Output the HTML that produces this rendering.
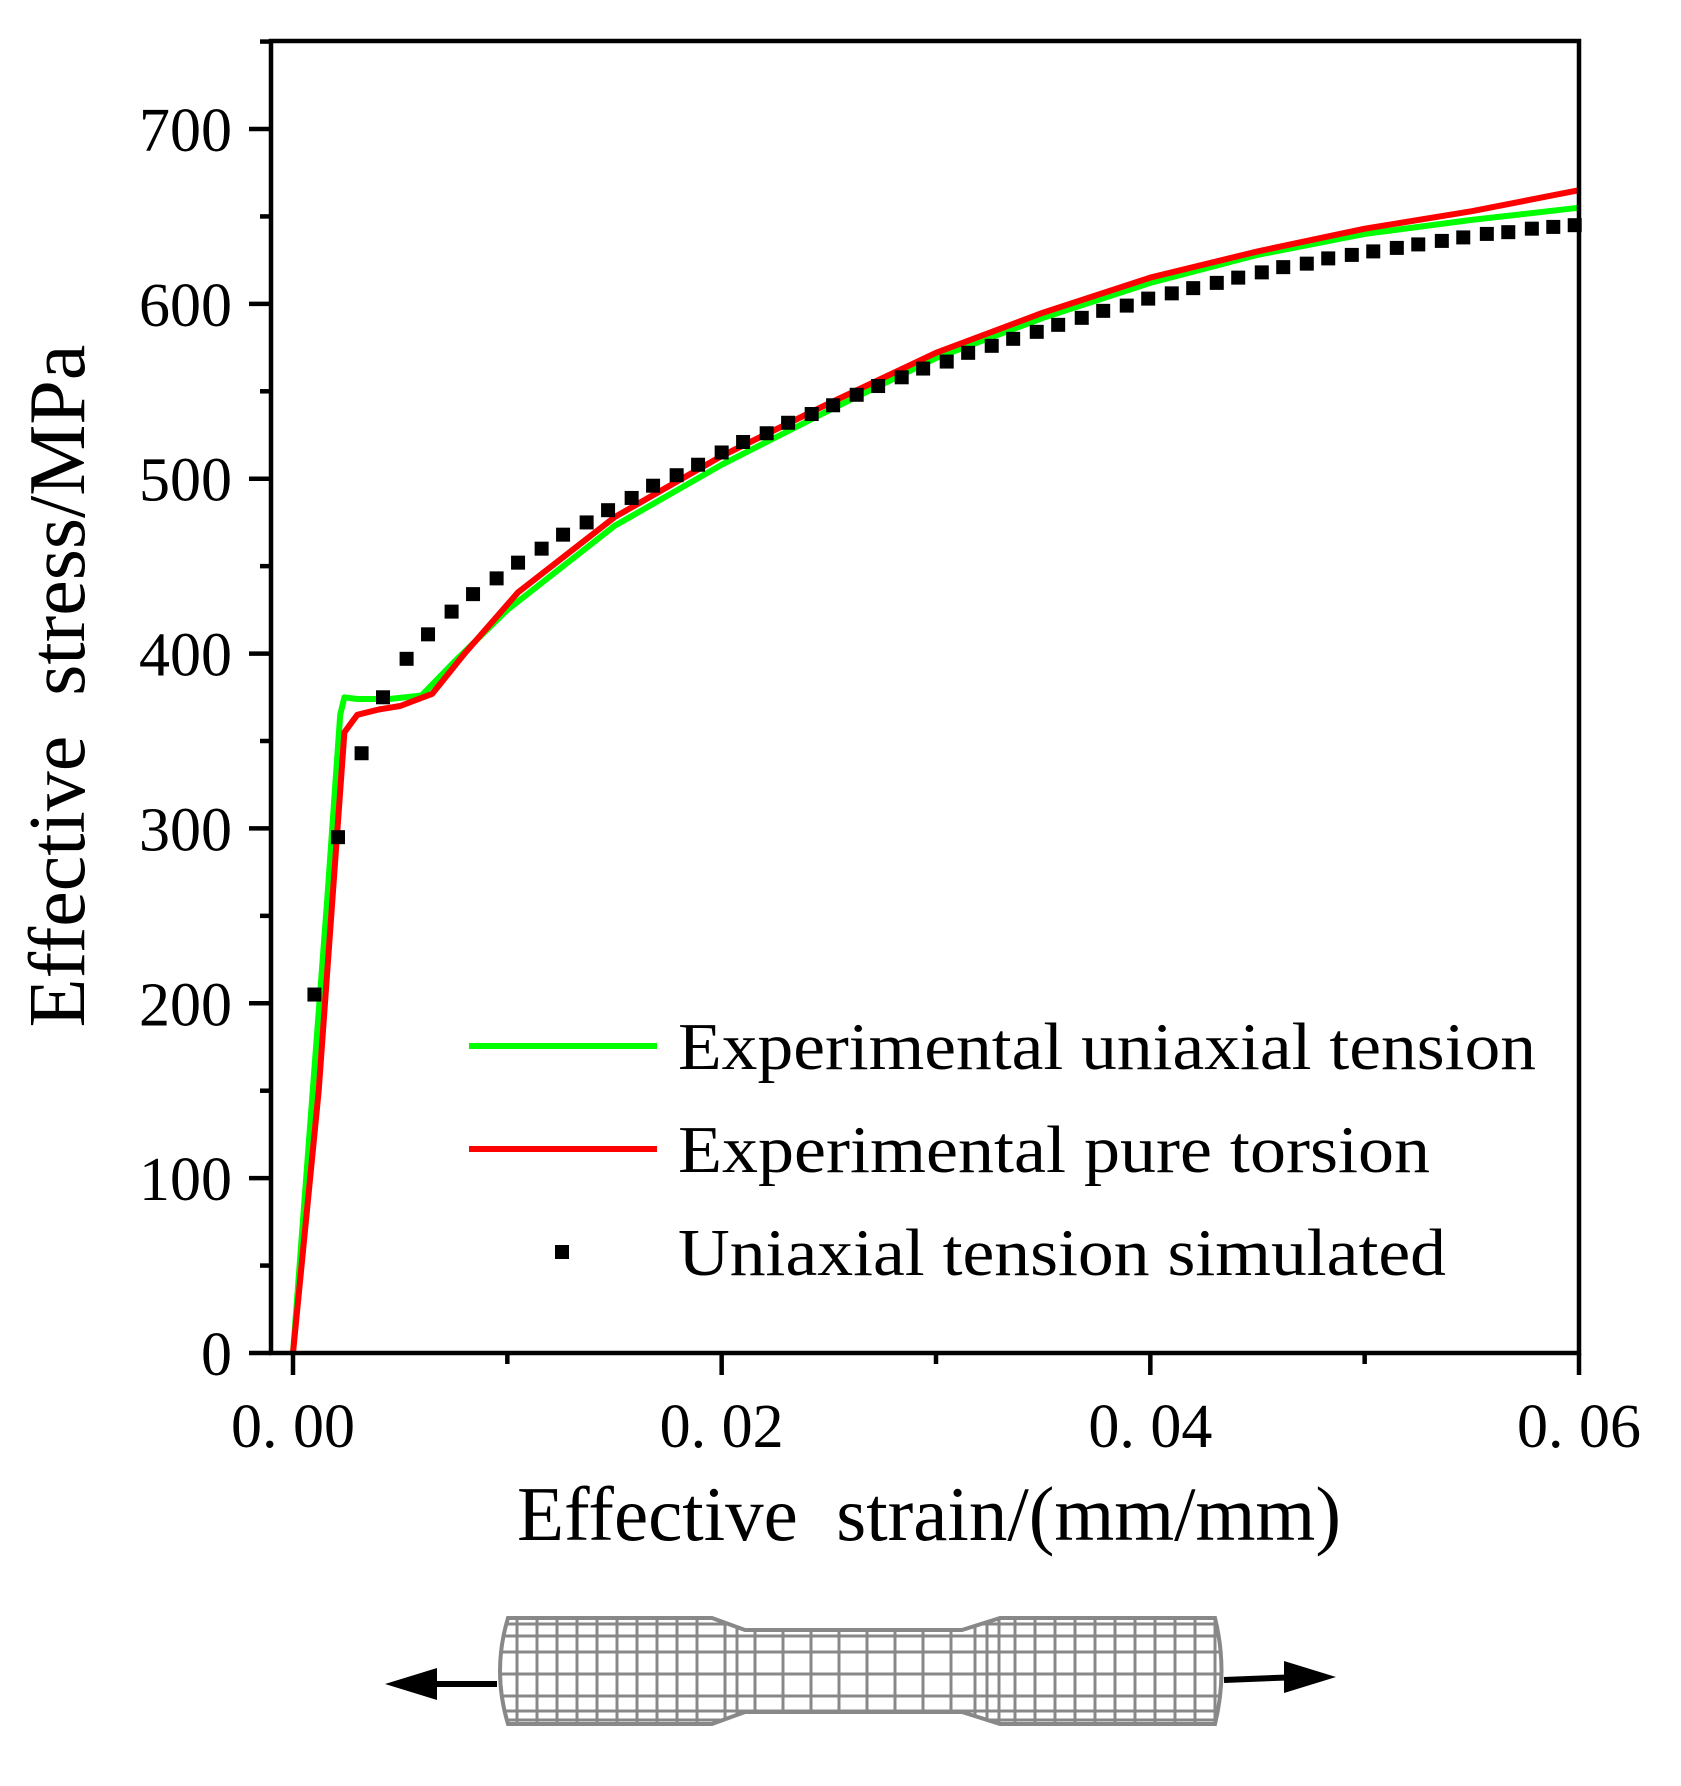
<!DOCTYPE html>
<html><head><meta charset="utf-8"><style>
html,body{margin:0;padding:0;background:#fff;}
svg{display:block;font-family:"Liberation Serif",serif;}
</style></head><body>
<svg id="chart" width="1681" height="1786" viewBox="0 0 1681 1786" xmlns="http://www.w3.org/2000/svg">
<g id="marks"></g>
<g id="axes"></g>
<text x="84" y="686" font-size="80" text-anchor="middle" transform="rotate(-90 84 686)" xml:space="preserve">Effective  stress/MPa</text>
<text x="929" y="1540" font-size="77" text-anchor="middle" xml:space="preserve">Effective  strain/(mm/mm)</text>
<g>
<line x1="469" y1="1046" x2="657" y2="1046" stroke="#00ff00" stroke-width="6"/>
<text x="678" y="1069" font-size="67" textLength="858" lengthAdjust="spacingAndGlyphs">Experimental uniaxial tension</text>
<line x1="469" y1="1149" x2="657" y2="1149" stroke="#ff0000" stroke-width="6"/>
<text x="678" y="1172" font-size="67" textLength="752" lengthAdjust="spacingAndGlyphs">Experimental pure torsion</text>
<rect x="555" y="1245" width="14" height="14" fill="#000"/>
<text x="678" y="1275" font-size="67" textLength="768" lengthAdjust="spacingAndGlyphs">Uniaxial tension simulated</text>
</g>
<g>
<defs>
<clipPath id="specClip"><path d="M508 1618 L712 1618 L745 1630 L962 1630 L1000 1618 L1215 1618 Q1228 1671 1215 1724 L1000 1724 L962 1712 L745 1712 L712 1724 L508 1724 Q492 1671 508 1618 Z"/></clipPath>
</defs>
<path d="M508 1618 L712 1618 L745 1630 L962 1630 L1000 1618 L1215 1618 Q1228 1671 1215 1724 L1000 1724 L962 1712 L745 1712 L712 1724 L508 1724 Q492 1671 508 1618 Z" fill="#fff" stroke="#888" stroke-width="4"/>
<g id="mesh" clip-path="url(#specClip)" stroke="#888" stroke-width="3"></g>
<line x1="398" y1="1684" x2="497" y2="1684" stroke="#000" stroke-width="6"/>
<polygon points="385,1684 437,1668 437,1700" fill="#000"/>
<line x1="1224" y1="1680" x2="1300" y2="1677" stroke="#000" stroke-width="6"/>
<polygon points="1336,1677 1284,1661 1284,1693" fill="#000"/>
</g>
</svg>
<script>
const xTicks = [0, 0.02, 0.04, 0.06];
const xTickLabels = ["0. 00", "0. 02", "0. 04", "0. 06"];
const yTicks = [0, 100, 200, 300, 400, 500, 600, 700];
const yTickLabels = ["0", "100", "200", "300", "400", "500", "600", "700"];
const uniaxialStrain = [0, 0.0008, 0.0016, 0.0022, 0.0024, 0.003, 0.0045, 0.006, 0.0075, 0.01, 0.015, 0.02, 0.025, 0.03, 0.035, 0.04, 0.045, 0.05, 0.055, 0.06];
const uniaxialStress = [0, 130, 260, 365, 375, 374, 374, 376, 395, 425, 473, 508, 539, 569, 592, 612, 628, 640, 648, 655];
const torsionStrain = [0, 0.0012, 0.0024, 0.003, 0.004, 0.005, 0.0065, 0.008, 0.0105, 0.015, 0.02, 0.025, 0.03, 0.035, 0.04, 0.045, 0.05, 0.055, 0.06];
const torsionStress = [0, 150, 355, 365, 368, 370, 377, 400, 435, 478, 513, 543, 572, 595, 615, 630, 643, 653, 665];
const simStrain = [0.0010,0.0021,0.0032,0.0042,0.0053,0.0063,0.0074,0.0084,0.0095,0.0105,0.0116,0.0126,0.0137,0.0147,0.0158,0.0168,0.0179,0.0189,0.0200,0.0210,0.0221,0.0231,0.0242,0.0252,0.0263,0.0273,0.0284,0.0294,0.0305,0.0315,0.0326,0.0336,0.0347,0.0357,0.0368,0.0378,0.0389,0.0399,0.0410,0.0420,0.0431,0.0441,0.0452,0.0462,0.0473,0.0483,0.0494,0.0504,0.0515,0.0525,0.0536,0.0546,0.0557,0.0567,0.0578,0.0588,0.0598];
const simStress = [205,295,343,375,397,411,424,434,443,452,460,468,475,482,489,496,502,508,515,521,526,532,537,542,548,553,558,563,567,572,576,580,584,588,592,596,599,603,606,609,612,615,618,621,623,626,628,630,632,634,636,638,640,641,643,644,645];

const NS = "http://www.w3.org/2000/svg";
const X0 = 293, X1 = 1579, Y0 = 1353, Y700 = 129;
function sx(v){ return X0 + (v / 0.06) * (X1 - X0); }
function sy(v){ return Y0 - (v / 700) * (Y0 - Y700); }
function mk(tag, attrs, parent){ const e = document.createElementNS(NS, tag); for (const k in attrs) e.setAttribute(k, attrs[k]); parent.appendChild(e); return e; }

const axes = document.getElementById('axes');
const marks = document.getElementById('marks');
const frame = mk('rect', {x:271, y:41, width:1579-271, height:1353-41, fill:'none', stroke:'#000', 'stroke-width':4.5}, axes);



xTicks.forEach((t, i) => {
  const l = mk('line', {x1:sx(t), x2:sx(t), y1:1353, y2:1375, stroke:'#000', 'stroke-width':4.5}, axes);
  
  
  const tx = mk('text', {x:sx(t), y:1447, 'font-size':62, 'text-anchor':'middle', 'xml:space':'preserve'}, axes);
  tx.textContent = xTickLabels[i];
  
  
  if (i < xTicks.length - 1) {
    const m = mk('line', {x1:sx(t+0.01), x2:sx(t+0.01), y1:1353, y2:1364, stroke:'#000', 'stroke-width':4.5}, axes);
    
    
  }
});
yTicks.forEach((t, i) => {
  const l = mk('line', {x1:249, x2:271, y1:sy(t), y2:sy(t), stroke:'#000', 'stroke-width':4.5}, axes);
  
  
  const tx = mk('text', {x:232, y:sy(t)+22, 'font-size':62, 'text-anchor':'end'}, axes);
  tx.textContent = yTickLabels[i];
  
  
  const m = mk('line', {x1:260, x2:271, y1:sy(t+50), y2:sy(t+50), stroke:'#000', 'stroke-width':4.5}, axes);
  
  
});

function line(xs, ys, color, name){
  const d = xs.map((x, i) => (i ? 'L' : 'M') + sx(x).toFixed(1) + ' ' + sy(ys[i]).toFixed(1)).join(' ');
  const p = mk('path', {d:d, fill:'none', stroke:color, 'stroke-width':6, 'stroke-linejoin':'round'}, marks);
  
  
}
line(uniaxialStrain, uniaxialStress, '#00ff00', 'uniaxial-tension-line');
line(torsionStrain, torsionStress, '#ff0000', 'pure-torsion-line');
simStrain.forEach((x, i) => {
  const r = mk('rect', {x:sx(x)-7, y:sy(simStress[i])-7, width:14, height:14, fill:'#000'}, marks);
  
  
});

const mesh = document.getElementById('mesh');
for (let x = 517; x < 712; x += 20) mk('line', {x1:x, x2:x, y1:1610, y2:1730}, mesh);
for (let x = 725; x < 745; x += 12) mk('line', {x1:x, x2:x, y1:1610, y2:1730}, mesh);
for (let x = 755; x < 962; x += 28) mk('line', {x1:x, x2:x, y1:1610, y2:1730}, mesh);
for (let x = 975; x < 1000; x += 12) mk('line', {x1:x, x2:x, y1:1610, y2:1730}, mesh);
for (let x = 1015; x < 1218; x += 20) mk('line', {x1:x, x2:x, y1:1610, y2:1730}, mesh);
[1624, 1636, 1652, 1674, 1696, 1711, 1720].forEach(y => mk('line', {x1:495, x2:1230, y1:y, y2:y}, mesh));
</script>
</body></html>
